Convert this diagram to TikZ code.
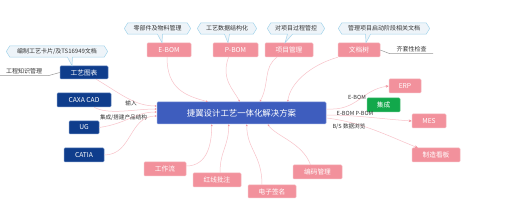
\documentclass[tikz,border=0pt]{standalone}
\usepackage{fontspec}
\setmainfont{Noto Sans CJK SC}
\usetikzlibrary{calc,arrows.meta}
\definecolor{pinkc}{HTML}{F2919C}
\definecolor{pinkbd}{HTML}{F7B9C1}
\definecolor{pinkln}{HTML}{F8C2C9}
\definecolor{navy}{HTML}{0F3D8C}
\definecolor{navybd}{HTML}{6F8FC4}
\definecolor{ctrc}{HTML}{3E5DBE}
\definecolor{ctrbd}{HTML}{8FA3DE}
\definecolor{greenc}{HTML}{12A84B}
\definecolor{callfill}{HTML}{EEF4F9}
\definecolor{callbd}{HTML}{A5D5EC}
\definecolor{txtgray}{HTML}{333333}
\newcommand\mycallout[7]{%
  \node[callnode, minimum width=#3] (#1) at (#2) {#4};
  \draw[callline] ([xshift=-3.5pt]#1.west) -- (#1.north west) -- (#1.north east)
    -- ([xshift=3.5pt]#1.east) -- (#1.south east)
    -- ($(#1.south)+(#5+2.5,0)$) -- ($(#6.north)+(#7,0)$)
    -- ($(#1.south)+(#5-2.5,0)$) -- (#1.south west) -- cycle;
  \node[callnode, minimum width=#3] at (#2) {#4};
}
\tikzset{
  box/.style={rounded corners=1pt, line width=0.5pt, text=white, inner sep=0pt,
    font=\fontsize{6.7}{7}\selectfont},
  pinkbox/.style={box, fill=pinkc, draw=pinkbd},
  navybox/.style={box, fill=navy, draw=navybd},
  greenbox/.style={box, fill=greenc, draw=greenc!70!white},
  ctrbox/.style={box, fill=ctrc, draw=ctrbd, font=\fontsize{8.4}{9}\selectfont},
  callnode/.style={inner sep=0pt, minimum height=11pt, text=txtgray,
    font=\fontsize{6}{6.5}\selectfont},
  callline/.style={fill=callfill, draw=callbd, line width=0.5pt},
  conn/.style={draw=pinkln, line width=0.5pt},
  inarr/.style={conn, -{Stealth[length=2pt,width=1.8pt,color=pinkc,fill=pinkc]}},
  outarr/.style={conn, -{Stealth[length=3pt,width=2.6pt,color=pinkc,fill=pinkc]}},
  lbl/.style={inner sep=0pt, text=txtgray, font=\fontsize{5.6}{6}\selectfont},
  grayline/.style={draw=gray!80, line width=0.5pt},
}
\begin{document}
\begin{tikzpicture}[x=1pt,y=-1pt]
\useasboundingbox[fill=white] (0,0) rectangle (507,200);
% central
\node[ctrbox, minimum width=169pt, minimum height=22pt] (ctr) at (241.5,113) {捷翼设计工艺一体化解决方案};
% top
\node[pinkbox, minimum width=44pt, minimum height=14pt] (eb) at (169,50) {E-BOM};
\node[pinkbox, minimum width=45pt, minimum height=14pt] (pb) at (235.5,50) {P-BOM};
\node[pinkbox, minimum width=48pt, minimum height=14pt] (xm) at (289,50) {项目管理};
\node[pinkbox, minimum width=42pt, minimum height=14pt] (wd) at (359,50) {文档树};
% left
\node[navybox, minimum width=48pt, minimum height=13pt] (gt) at (84,72.5) {工艺图表};
\node[navybox, minimum width=54pt, minimum height=14pt] (caxa) at (84,100) {CAXA CAD};
\node[navybox, minimum width=30pt, minimum height=13pt] (ug) at (84,127.5) {UG};
\node[navybox, minimum width=40pt, minimum height=14pt] (catia) at (84,155) {CATIA};
% bottom
\node[pinkbox, minimum width=42pt, minimum height=14pt] (gzl) at (165,169) {工作流};
\node[pinkbox, minimum width=48pt, minimum height=14pt] (hx) at (217,180) {红线批注};
\node[pinkbox, minimum width=48pt, minimum height=13pt] (dz) at (272,191.5) {电子签名};
\node[pinkbox, minimum width=49pt, minimum height=14pt] (bm) at (317.5,172) {编码管理};
% right
\node[pinkbox, minimum width=32pt, minimum height=14pt] (erp) at (405,86) {ERP};
\node[greenbox, minimum width=33pt, minimum height=14pt] (jc) at (383.5,105) {集成};
\node[pinkbox, minimum width=34pt, minimum height=14pt] (mes) at (429,121) {MES};
\node[pinkbox, minimum width=48pt, minimum height=14pt] (kb) at (436,155) {制造看板};
% callouts
\mycallout{c1}{157.5,28.5}{59pt}{零部件及物料管理}{2.5}{eb}{-7}
\mycallout{c2}{227,28.5}{52pt}{工艺数据结构化}{0}{pb}{-7.5}
\mycallout{c3}{296,28.5}{50pt}{对项目过程管控}{-6}{xm}{-4}
\mycallout{c4}{384,28.5}{84pt}{管理项目启动阶段相关文档}{-16}{wd}{7}
\mycallout{c5}{57,51.5}{94pt}{编制工艺卡片/及TS16949文档}{13}{gt}{-12}
% gray side labels
\node[lbl, font=\fontsize{6}{6.5}\selectfont, minimum width=48pt, minimum height=8pt] (gc) at (24,71.5) {工程知识管理};
\draw[grayline] (gc.south west) -- (gc.south east) -- (gt.west);
\node[lbl, font=\fontsize{6}{6.5}\selectfont, minimum width=43pt, minimum height=8pt] (qt) at (411.5,49.5) {齐套性检查};
\draw[grayline] (wd.east) -- (qt.south west) -- (qt.south east);
% top connectors
\draw[inarr] ($(eb.south)+(-2,0)$) .. controls +(0,32) and +(-22,-6) .. ($(ctr.north west)+(51,0)$);
\draw[inarr] ($(pb.south)+(-7,0)$) .. controls +(-8,22) and +(-6,-12) .. ($(ctr.north west)+(83,0)$);
\draw[inarr] ($(xm.south)+(-12,0)$) .. controls +(-14,10) and +(10,-18) .. ($(ctr.north west)+(103,0)$);
\draw[inarr] (wd.south west) .. controls +(-28,8) and +(2,-18) .. ($(ctr.north west)+(131,0)$);
% left connectors
\draw[inarr] ($(gt.south east)+(-12,0)$) .. controls +(25,15) and +(-22,0) .. ($(ctr.west)+(0,-7)$);
\draw[inarr] ($(caxa.south east)+(-17,0)$) .. controls +(14,8) and +(-22,0) .. ($(ctr.west)+(0,-4)$);
\draw[inarr] (ug.east) .. controls +(28,-4) and +(-22,0) .. ($(ctr.west)+(0,-1)$);
\draw[inarr] (catia.east) .. controls +(28,0) and +(-28,0) .. ($(ctr.west)+(0,3)$);
\node[lbl] (lin) at (131,103) {输入};
\node[lbl] (ljc) at (123.5,118) {集成/搭建产品结构};
% bottom connectors
\draw[inarr] ($(gzl.east)+(0,-3)$) .. controls +(22,0) and +(0,18) .. ($(ctr.south west)+(55,0)$);
\draw[inarr] ($(hx.north)+(3,0)$) .. controls +(0,-22) and +(0,22) .. ($(ctr.south west)+(72,0)$);
\draw[inarr] ($(dz.north)+(-10,0)$) .. controls +(0,-30) and +(0,25) .. ($(ctr.south west)+(90,0)$);
\draw[inarr] ($(bm.north)+(-7,0)$) .. controls +(-8,-22) and +(8,12) .. ($(ctr.south west)+(111,0)$);
% right connectors
\draw[outarr] ($(ctr.east)+(0,-4)$) .. controls +(32,2) and +(-28,4) .. (erp.west);
\draw[outarr] ($(ctr.east)+(0,2)$) .. controls +(30,0) and +(-30,-2) .. (mes.west);
\draw[outarr] ($(ctr.east)+(0,5)$) .. controls +(35,4) and +(-30,-12) .. ($(kb.north west)+(6,0)$);
\node[lbl] (le1) at (357,97) {E-BOM};
\node[lbl] (le2) at (355,113) {E-BOM P-BOM};
\node[lbl] (le3) at (349,127) {B/S 数据浏览};
\end{tikzpicture}
\end{document}
